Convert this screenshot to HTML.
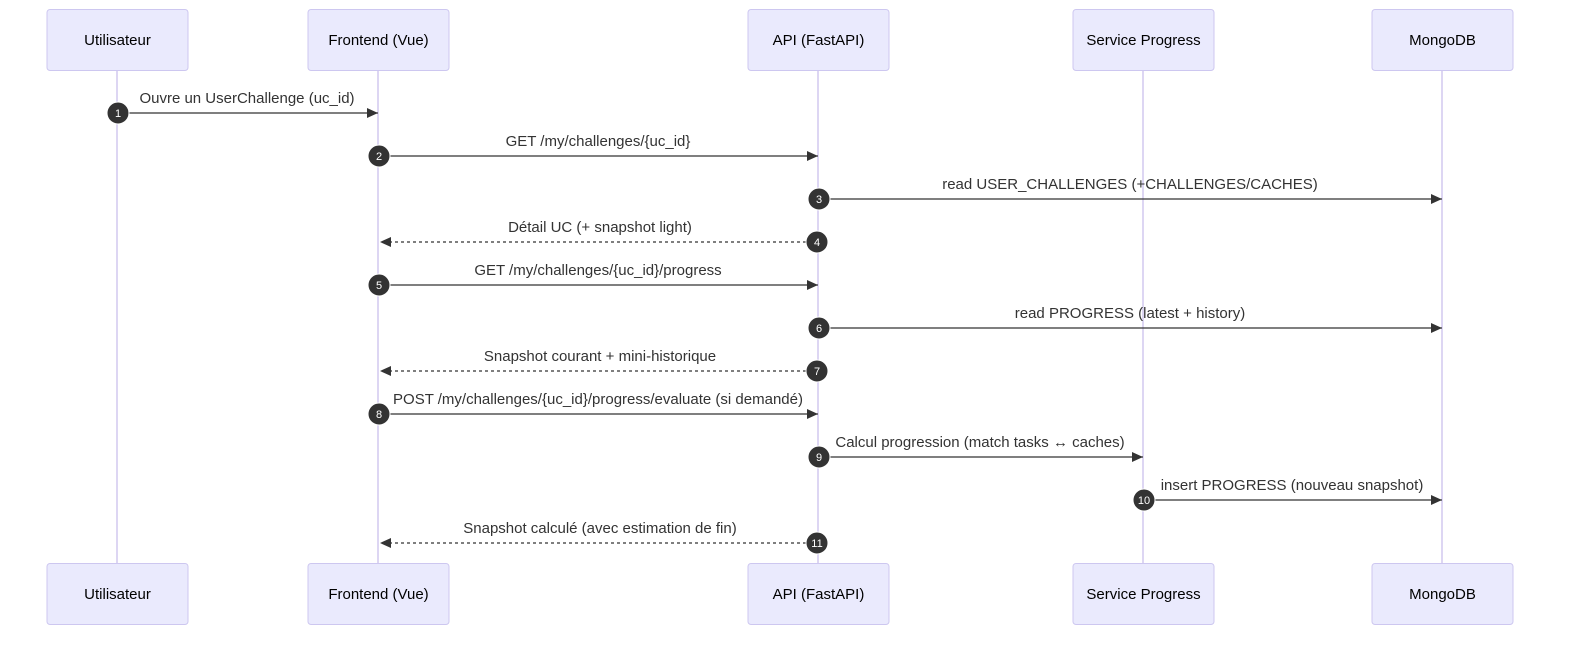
<!DOCTYPE html>
<html><head><meta charset="utf-8"><style>
html,body{margin:0;padding:0;background:#fff;overflow:hidden;width:1584px;height:645px;}
svg{display:block;font-family:"Liberation Sans",Arial,sans-serif;}
</style></head><body>
<svg width="1584" height="645" viewBox="0 0 1584 645" xmlns="http://www.w3.org/2000/svg">
<defs>
<marker id="ah" markerWidth="12" markerHeight="12" refX="11" refY="5" orient="auto-start-reverse" markerUnits="userSpaceOnUse"><path d="M0,0 L11,5 L0,10 z" fill="#333"/></marker>
</defs>
<g stroke="#ddd6f3" stroke-width="2">
<line x1="117" y1="70" x2="117" y2="563"/><line x1="378" y1="70" x2="378" y2="563"/><line x1="818" y1="70" x2="818" y2="563"/><line x1="1143" y1="70" x2="1143" y2="563"/><line x1="1442" y1="70" x2="1442" y2="563"/>
</g>
<g fill="#eaeafd" stroke="#cdc7f0" stroke-width="1">
<rect x="47" y="9.5" width="141" height="61" rx="3"/><rect x="308" y="9.5" width="141" height="61" rx="3"/><rect x="748" y="9.5" width="141" height="61" rx="3"/><rect x="1073" y="9.5" width="141" height="61" rx="3"/><rect x="1372" y="9.5" width="141" height="61" rx="3"/>
<rect x="47" y="563.5" width="141" height="61" rx="3"/><rect x="308" y="563.5" width="141" height="61" rx="3"/><rect x="748" y="563.5" width="141" height="61" rx="3"/><rect x="1073" y="563.5" width="141" height="61" rx="3"/><rect x="1372" y="563.5" width="141" height="61" rx="3"/>
</g>
<g font-size="15" fill="#000" text-anchor="middle">
<text x="117.5" y="45">Utilisateur</text><text x="378.5" y="45">Frontend (Vue)</text><text x="818.5" y="45">API (FastAPI)</text><text x="1143.5" y="45">Service Progress</text><text x="1442.5" y="45">MongoDB</text>
<text x="117.5" y="599">Utilisateur</text><text x="378.5" y="599">Frontend (Vue)</text><text x="818.5" y="599">API (FastAPI)</text><text x="1143.5" y="599">Service Progress</text><text x="1442.5" y="599">MongoDB</text>
</g>
<g stroke="#333" stroke-width="1.3" fill="none" marker-end="url(#ah)">
<line x1="117" y1="113" x2="378" y2="113"/>
<line x1="378" y1="156" x2="818" y2="156"/>
<line x1="818" y1="199" x2="1442" y2="199"/>
<line x1="818" y1="242" x2="380" y2="242" stroke-dasharray="3,3"/>
<line x1="378" y1="285" x2="818" y2="285"/>
<line x1="818" y1="328" x2="1442" y2="328"/>
<line x1="818" y1="371" x2="380" y2="371" stroke-dasharray="3,3"/>
<line x1="378" y1="414" x2="818" y2="414"/>
<line x1="818" y1="457" x2="1143" y2="457"/>
<line x1="1143" y1="500" x2="1442" y2="500"/>
<line x1="818" y1="543" x2="380" y2="543" stroke-dasharray="3,3"/>
</g>
<g font-size="15" fill="#333" text-anchor="middle">
<text x="247" y="103">Ouvre un UserChallenge (uc_id)</text>
<text x="598" y="146">GET /my/challenges/{uc_id}</text>
<text x="1130" y="189">read USER_CHALLENGES (+CHALLENGES/CACHES)</text>
<text x="600" y="232">Détail UC (+ snapshot light)</text>
<text x="598" y="275">GET /my/challenges/{uc_id}/progress</text>
<text x="1130" y="318">read PROGRESS (latest + history)</text>
<text x="600" y="361">Snapshot courant + mini-historique</text>
<text x="598" y="404">POST /my/challenges/{uc_id}/progress/evaluate (si demandé)</text>
<text x="980" y="447">Calcul progression (match tasks ↔ caches)</text>
<text x="1292" y="490">insert PROGRESS (nouveau snapshot)</text>
<text x="600" y="533">Snapshot calculé (avec estimation de fin)</text>
</g>
<g fill="#333" stroke="#fff" stroke-width="1">
<circle cx="118" cy="113" r="11"/><circle cx="379" cy="156" r="11"/><circle cx="819" cy="199" r="11"/><circle cx="817" cy="242" r="11"/><circle cx="379" cy="285" r="11"/><circle cx="819" cy="328" r="11"/><circle cx="817" cy="371" r="11"/><circle cx="379" cy="414" r="11"/><circle cx="819" cy="457" r="11"/><circle cx="1144" cy="500" r="11"/><circle cx="817" cy="543" r="11"/>
</g>
<g font-size="11" fill="#fff" text-anchor="middle">
<text x="118" y="117">1</text><text x="379" y="160">2</text><text x="819" y="203">3</text><text x="817" y="246">4</text><text x="379" y="289">5</text><text x="819" y="332">6</text><text x="817" y="375">7</text><text x="379" y="418">8</text><text x="819" y="461">9</text><text x="1144" y="504">10</text><text x="817" y="547">11</text>
</g>
</svg>
</body></html>
